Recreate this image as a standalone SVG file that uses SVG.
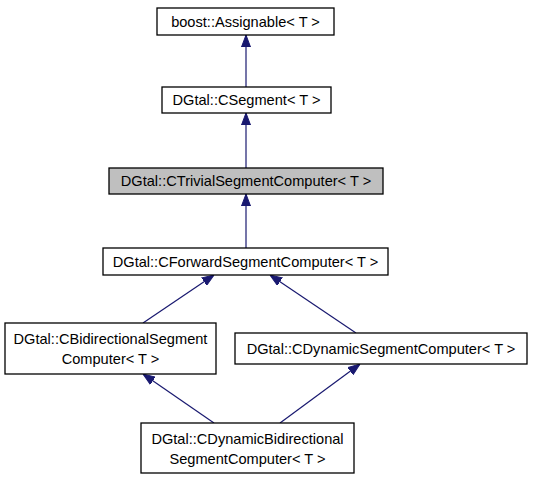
<svg xmlns="http://www.w3.org/2000/svg" width="533" height="480" viewBox="0 0 533 480">
<style>
.n rect{fill:#fff;stroke:#000;stroke-width:1.3}
.n.g rect{fill:#bfbfbf}
.n text{font-family:"Liberation Sans",Arial,sans-serif;font-size:14.6px;text-anchor:middle;fill:#000}
.e line{stroke:#191970;stroke-width:1.2}
</style>
<defs>
<marker id="ah" markerWidth="12" markerHeight="10" viewBox="0 0 12 10" refX="12" refY="5" orient="auto" markerUnits="userSpaceOnUse">
<path d="M0,0.5 L12,5 L0,9.5 z" fill="#191970" stroke="#191970"/>
</marker>
</defs>
<rect width="533" height="480" fill="#fff"/>
<g id="edges" class="e">
<line x1="246" y1="87" x2="246" y2="35" marker-end="url(#ah)"/>
<line x1="246" y1="168" x2="246" y2="113" marker-end="url(#ah)"/>
<line x1="246" y1="248" x2="246" y2="194" marker-end="url(#ah)"/>
<line x1="143" y1="323" x2="214" y2="275" marker-end="url(#ah)"/>
<line x1="356" y1="333" x2="270" y2="275" marker-end="url(#ah)"/>
<line x1="214" y1="423" x2="143" y2="374" marker-end="url(#ah)"/>
<line x1="280" y1="423" x2="360" y2="364" marker-end="url(#ah)"/>
</g>
<g id="n1" class="n"><rect x="157" y="8" width="177" height="27"/><text x="245.5" y="26.5">boost::Assignable&lt; T &gt;</text></g>
<g id="n2" class="n"><rect x="162" y="87" width="169" height="26"/><text x="246.5" y="105">DGtal::CSegment&lt; T &gt;</text></g>
<g id="n3" class="n g"><rect x="109" y="168" width="274" height="26"/><text x="246" y="186">DGtal::CTrivialSegmentComputer&lt; T &gt;</text></g>
<g id="n4" class="n"><rect x="103" y="248" width="285" height="27"/><text x="245.5" y="266.5">DGtal::CForwardSegmentComputer&lt; T &gt;</text></g>
<g id="n5" class="n"><rect x="5" y="323" width="211" height="51"/><text x="110.5" y="344">DGtal::CBidirectionalSegment</text><text x="110.5" y="364">Computer&lt; T &gt;</text></g>
<g id="n6" class="n"><rect x="235" y="333" width="292" height="31"/><text x="381" y="353.5">DGtal::CDynamicSegmentComputer&lt; T &gt;</text></g>
<g id="n7" class="n"><rect x="141" y="423" width="213" height="50"/><text x="247.5" y="444">DGtal::CDynamicBidirectional</text><text x="247.5" y="464">SegmentComputer&lt; T &gt;</text></g>
</svg>
